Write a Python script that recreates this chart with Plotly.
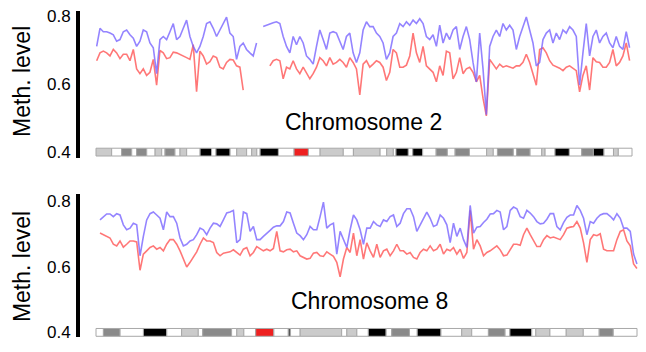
import numpy as np
import plotly.graph_objects as go

# ---------------- data ----------------
chr2_length = 243.0
chr2_bin_start = 0.30
chr2_bin_size = 1.51
chr2_blue = [0.710, 0.763, 0.753, 0.753, 0.749, 0.744, 0.725, 0.730, 0.753, 0.758,
             0.744, 0.734, 0.710, 0.725, 0.758, 0.753, 0.720, 0.706, 0.630, 0.730,
             0.739, 0.730, 0.753, 0.777, 0.730, 0.739, 0.763, 0.787, 0.739, 0.710,
             0.691, 0.710, 0.739, 0.777, 0.782, 0.763, 0.739, 0.758, 0.777, 0.796,
             0.749, 0.739, 0.672, 0.710, 0.720, 0.701, 0.691, 0.682, 0.720, None,
             0.768, 0.772, 0.777, 0.779, 0.782, 0.777, 0.739, 0.710, 0.691, 0.739,
             0.715, 0.739, 0.720, 0.682, 0.672, 0.658, 0.710, 0.758, 0.730, 0.701,
             0.749, 0.753, 0.749, 0.725, 0.701, 0.739, 0.749, 0.691, 0.663, 0.691,
             0.758, 0.782, 0.768, 0.768, 0.749, 0.739, 0.720, 0.672, 0.691, 0.739,
             0.749, 0.777, 0.768, 0.782, 0.772, 0.787, 0.777, 0.791, 0.777, 0.739,
             0.730, 0.744, 0.710, 0.772, 0.720, 0.749, 0.730, 0.758, 0.768, 0.701,
             0.739, 0.768, 0.730, 0.663, 0.606, 0.749, 0.644, 0.510, 0.710, 0.739,
             0.758, 0.739, 0.777, 0.758, 0.772, 0.758, 0.701, 0.739, 0.768, 0.796,
             0.758, 0.720, 0.653, 0.663, 0.730, 0.749, 0.758, 0.720, 0.749, 0.730,
             0.758, 0.749, 0.768, 0.758, 0.739, 0.596, 0.691, 0.777, 0.682, 0.739,
             0.758, 0.720, 0.739, 0.749, 0.720, 0.706, 0.739, 0.710, 0.701, 0.753, 0.706]
chr2_red = [0.668, 0.691, 0.696, 0.691, 0.682, 0.701, 0.691, 0.674, 0.687, 0.687,
            0.668, 0.701, 0.644, 0.630, 0.644, 0.625, 0.634, 0.672, 0.596, 0.698,
            0.691, 0.674, 0.677, 0.693, 0.691, 0.687, 0.682, 0.677, 0.672, 0.715,
            0.577, 0.696, 0.682, 0.658, 0.665, 0.682, 0.677, 0.649, 0.644, 0.663,
            0.672, 0.670, 0.653, 0.649, 0.582, None, None, None, None, None,
            None, None, 0.653, 0.668, 0.672, 0.668, 0.615, 0.649, 0.644, 0.668,
            0.644, 0.630, 0.649, 0.634, 0.615, 0.630, 0.649, 0.677, 0.668, 0.653,
            0.677, 0.658, 0.663, 0.672, 0.663, 0.649, 0.677, 0.663, 0.644, 0.568,
            0.658, 0.668, 0.649, 0.658, 0.668, 0.663, 0.649, 0.610, 0.634, 0.701,
            0.691, 0.649, 0.649, 0.655, 0.682, 0.749, 0.691, 0.663, 0.710, 0.653,
            0.644, 0.634, 0.606, 0.653, 0.625, 0.696, 0.691, 0.615, 0.634, 0.677,
            0.630, 0.644, 0.649, 0.634, 0.606, 0.625, 0.558, 0.506, 0.672, 0.658,
            0.644, 0.658, 0.649, 0.653, 0.649, 0.646, 0.653, 0.653, 0.663, 0.687,
            0.663, 0.630, 0.596, 0.701, 0.706, 0.691, 0.668, 0.655, 0.651, 0.646,
            0.639, 0.649, 0.653, 0.646, 0.639, 0.577, 0.625, 0.653, 0.582, 0.677,
            0.665, 0.663, 0.649, 0.649, 0.663, 0.701, 0.653, 0.663, 0.682, 0.720, 0.668]

chr8_length = 146.0
chr8_bin_start = 1.08
chr8_bin_size = 0.90
chr8_blue = [0.742, 0.752, 0.760, 0.760, 0.752, 0.761, 0.757, 0.727, 0.712, 0.717,
             0.732, 0.727, 0.633, 0.692, 0.742, 0.761, 0.766, 0.757, 0.747, 0.712,
             0.766, 0.752, 0.752, 0.732, 0.687, 0.663, 0.668, 0.678, 0.682, 0.697,
             0.717, 0.712, 0.697, 0.717, 0.732, 0.730, 0.722, 0.742, 0.763, 0.766,
             0.771, 0.673, 0.682, 0.766, 0.761, 0.707, 0.722, 0.682, 0.682, 0.692,
             0.700, 0.710, 0.720, 0.724, 0.724, 0.737, 0.766, 0.763, 0.732, 0.702,
             0.694, 0.682, 0.697, 0.722, 0.712, 0.712, 0.752, 0.796, 0.717, 0.727,
             0.732, 0.638, 0.707, 0.682, 0.658, 0.712, 0.757, 0.742,
             0.712, 0.668, 0.717, 0.717,
             0.737, 0.727, 0.722, 0.742, 0.737, 0.752, 0.757, 0.722, 0.732, 0.761,
             0.776, 0.776, 0.752, 0.707, 0.727, 0.742, 0.766, 0.747, 0.722, 0.727,
             0.757, 0.747, 0.727, 0.673, 0.732, 0.692, 0.717, 0.682, 0.658, 0.786,
             0.702, 0.720, 0.722, 0.734, 0.744, 0.760, 0.761, 0.771, 0.766, 0.712,
             0.722, 0.771, 0.781, 0.776, 0.752, 0.747, 0.771, 0.763, 0.752, 0.737,
             0.730, 0.732, 0.744, 0.761, 0.761, 0.722, 0.712, 0.734, 0.750, 0.757,
             0.757, 0.786, 0.771, 0.747, 0.697, 0.737, 0.732, 0.747, 0.757, 0.761,
             0.761, 0.753, 0.742, 0.761, 0.747, 0.717, 0.717, 0.707, 0.638, 0.608]
chr8_red = [0.702, 0.697, 0.694, 0.687, 0.668, 0.663, 0.678, 0.659, 0.668, 0.678,
            0.678, 0.675, 0.589, 0.638, 0.648, 0.658, 0.663, 0.653, 0.658, 0.648,
            0.668, 0.682, 0.682, 0.668, 0.648, 0.623, 0.599, 0.613, 0.628, 0.645,
            0.668, 0.687, 0.678, 0.678, 0.673, 0.643, 0.633, 0.641, 0.643, 0.645,
            0.651, 0.643, 0.635, 0.653, 0.658, 0.633, 0.643, 0.661, 0.655, 0.648,
            0.653, 0.648, 0.655, 0.707, 0.648, 0.645, 0.651, 0.653, 0.645, 0.648,
            0.633, 0.628, 0.623, 0.625, 0.641, 0.643, 0.633, 0.631, 0.645, 0.638,
            0.631, 0.613, 0.569, 0.623, 0.658, 0.643, 0.702, 0.633,
            0.682, 0.623, 0.672, 0.648,
            0.628, 0.668, 0.628, 0.648, 0.653, 0.633, 0.648, 0.668, 0.648, 0.648,
            0.638, 0.643, 0.628, 0.623, 0.643, 0.653, 0.648, 0.663, 0.648, 0.653,
            0.668, 0.638, 0.653, 0.648, 0.658, 0.638, 0.653, 0.625, 0.643, 0.771,
            0.653, 0.682, 0.663, 0.633, 0.643, 0.648, 0.655, 0.663, 0.651, 0.633,
            0.635, 0.651, 0.668, 0.668, 0.665, 0.697, 0.717, 0.697, 0.678, 0.661,
            0.661, 0.682, 0.694, 0.687, 0.690, 0.687, 0.682, 0.697, 0.717, 0.720,
            0.722, 0.737, 0.717, 0.672, 0.613, 0.682, 0.697, 0.694, 0.700, 0.653,
            0.648, 0.648, 0.648, 0.682, 0.707, 0.712, 0.678, 0.663, 0.608, 0.594]

# cytoband ideograms (start in Mb, stain)
chr2_band_starts = [0, 7.1, 11.6, 16.2, 18.4, 23.0, 26.8, 29.8, 31.3, 35.8, 38.1, 41.1, 47.2,
                    52.4, 54.4, 60.8, 63.8, 68.3, 70.6, 72.9, 74.4, 82.7, 89.8, 96.3, 101.6,
                    112.1, 116.7, 128.8, 131.8, 134.8, 136.0, 141.6, 143.6, 148.1, 154.2,
                    159.3, 162.8, 169.3, 177.1, 180.1, 182.0, 189.2, 190.7, 196.8, 202.1,
                    203.6, 208.1, 214.6, 220.2, 225.5, 230.3, 234.6, 236.8]
chr2_band_stains = ["gpos25", "gneg", "gpos50", "gneg", "gpos50", "gneg", "gpos25", "gneg",
                    "gpos50", "gneg", "gpos25", "gneg", "gpos100", "gneg", "gpos100", "gneg",
                    "gpos25", "gneg", "gpos25", "gneg", "gpos100", "gneg", "acen", "gneg",
                    "gpos25", "gneg", "gpos25", "gneg", "gpos25", "gneg", "gpos100", "gneg",
                    "gpos100", "gneg", "gpos50", "gneg", "gpos50", "gneg", "gpos25", "gneg",
                    "gpos50", "gneg", "gpos50", "gneg", "gpos25", "gneg", "gpos100", "gneg",
                    "gpos50", "gpos100", "gneg", "gpos25", "gneg"]
chr8_band_starts = [0, 2.0, 6.5, 12.8, 19.1, 23.1, 27.6, 28.8, 36.6, 38.0, 39.9, 43.1, 48.0,
                    51.9, 52.5, 55.1, 66.3, 67.7, 70.4, 73.5, 78.3, 79.8, 84.6, 86.7, 93.1,
                    98.7, 101.4, 105.9, 110.4, 111.7, 117.6, 118.7, 122.5, 126.9, 131.5,
                    135.8, 139.6]
chr8_band_stains = ["gneg", "gpos50", "gneg", "gpos100", "gneg", "gpos25", "gneg", "gpos50",
                    "gneg", "gpos25", "gneg", "acen", "gneg", "gpos75", "gneg", "gpos25",
                    "gneg", "gpos25", "gneg", "gpos100", "gneg", "gpos50", "gneg", "gpos100",
                    "gneg", "gpos25", "gneg", "gpos50", "gneg", "gpos100", "gneg", "gpos25",
                    "gneg", "gpos25", "gneg", "gpos50", "gneg"]

tick_vals = [0.4, 0.6, 0.8]
tick_text = ["0.4", "0.6", "0.8"]
panel_titles = ["Chromosome 2", "Chromosome 8"]
y_title = "Meth. level"

# ---------------- styles ----------------
stain_colors = {"gneg": "#ffffff", "gpos25": "#cbcbcb", "gpos50": "#8a8a8a",
                "gpos75": "#555555", "gpos100": "#000000", "acen": "#ee2020"}
BLUE = "rgba(118, 98, 255, 0.78)"
RED = "rgba(255, 66, 66, 0.72)"
FONT = "Liberation Sans, Arial, sans-serif"

W, H = 646, 352


def px_x(p):
    return p / W


def px_y(p):
    return 1 - p / H


fig = go.Figure()

panels = [
    dict(length=chr2_length, start=chr2_bin_start, size=chr2_bin_size, blue=chr2_blue, red=chr2_red,
         bands=chr2_band_starts, stains=chr2_band_stains, xa="x", ya="y",
         ytop=7, ybot=158, y08=12, y04=152, x0=96, x1=632, title_y=121.5, title_x=364, ytitle_y=80),
    dict(length=chr8_length, start=chr8_bin_start, size=chr8_bin_size, blue=chr8_blue, red=chr8_red,
         bands=chr8_band_starts, stains=chr8_band_stains, xa="x2", ya="y2",
         ytop=195, ybot=342, y08=202, y04=337, x0=96, x1=637, title_y=305, title_x=369, ytitle_y=270),
]

dom_left, dom_right = 80, 640
layout_axes = {}
annotations = []
for i, p in enumerate(panels):
    pos = p["start"] + p["size"] * np.arange(len(p["blue"]))
    fig.add_trace(go.Scatter(x=pos, y=p["red"], mode="lines", line=dict(color=RED, width=1.6),
                             connectgaps=False, xaxis=p["xa"], yaxis=p["ya"], showlegend=False))
    fig.add_trace(go.Scatter(x=pos, y=p["blue"], mode="lines", line=dict(color=BLUE, width=1.6),
                             connectgaps=False, xaxis=p["xa"], yaxis=p["ya"], showlegend=False))
    starts = np.array(p["bands"], dtype=float)
    ends = np.append(starts[1:], p["length"])
    ppu_y = (p["y04"] - p["y08"]) / 0.4
    fig.add_trace(go.Bar(orientation="h", y=[0.4] * len(starts), x=ends - starts, base=starts,
                         width=8 / ppu_y,
                         marker=dict(color=[stain_colors[s] for s in p["stains"]],
                                     line=dict(color="#a8a8a8", width=1)),
                         xaxis=p["xa"], yaxis=p["ya"], showlegend=False))
    ppu_x = (p["x1"] - p["x0"]) / p["length"]
    xr = [-(p["x0"] - dom_left) / ppu_x, p["length"] + (dom_right - p["x1"]) / ppu_x]
    yr = [0.4 - (p["ybot"] - p["y04"]) / ppu_y, 0.8 + (p["y08"] - p["ytop"]) / ppu_y]
    sfx = "" if i == 0 else str(i + 1)
    layout_axes["xaxis" + sfx] = dict(domain=[px_x(dom_left), px_x(dom_right)], range=xr,
                                      visible=False, anchor="y" + sfx, fixedrange=True)
    layout_axes["yaxis" + sfx] = dict(domain=[px_y(p["ybot"]), px_y(p["ytop"])], range=yr,
                                      anchor="x" + sfx, showgrid=False, zeroline=False,
                                      showline=True, linecolor="black", linewidth=4,
                                      ticks="", tickvals=tick_vals, ticktext=tick_text,
                                      tickfont=dict(family=FONT, size=17, color="black"),
                                      ticklabelstandoff=2)
    annotations.append(dict(text=panel_titles[i], xref="paper", yref="paper",
                            x=px_x(p["title_x"]), y=px_y(p["title_y"]), xanchor="center",
                            yanchor="middle", showarrow=False,
                            font=dict(family=FONT, size=23, color="black")))
    annotations.append(dict(text=y_title, xref="paper", yref="paper", x=px_x(22),
                            y=px_y(p["ytitle_y"]), xanchor="center", yanchor="middle",
                            textangle=-90, showarrow=False,
                            font=dict(family=FONT, size=23, color="black")))

fig.update_layout(width=W, height=H, margin=dict(l=0, r=0, t=0, b=0),
                  paper_bgcolor="white", plot_bgcolor="white", barmode="overlay",
                  showlegend=False, annotations=annotations, **layout_axes)

fig.write_html("out.html")
